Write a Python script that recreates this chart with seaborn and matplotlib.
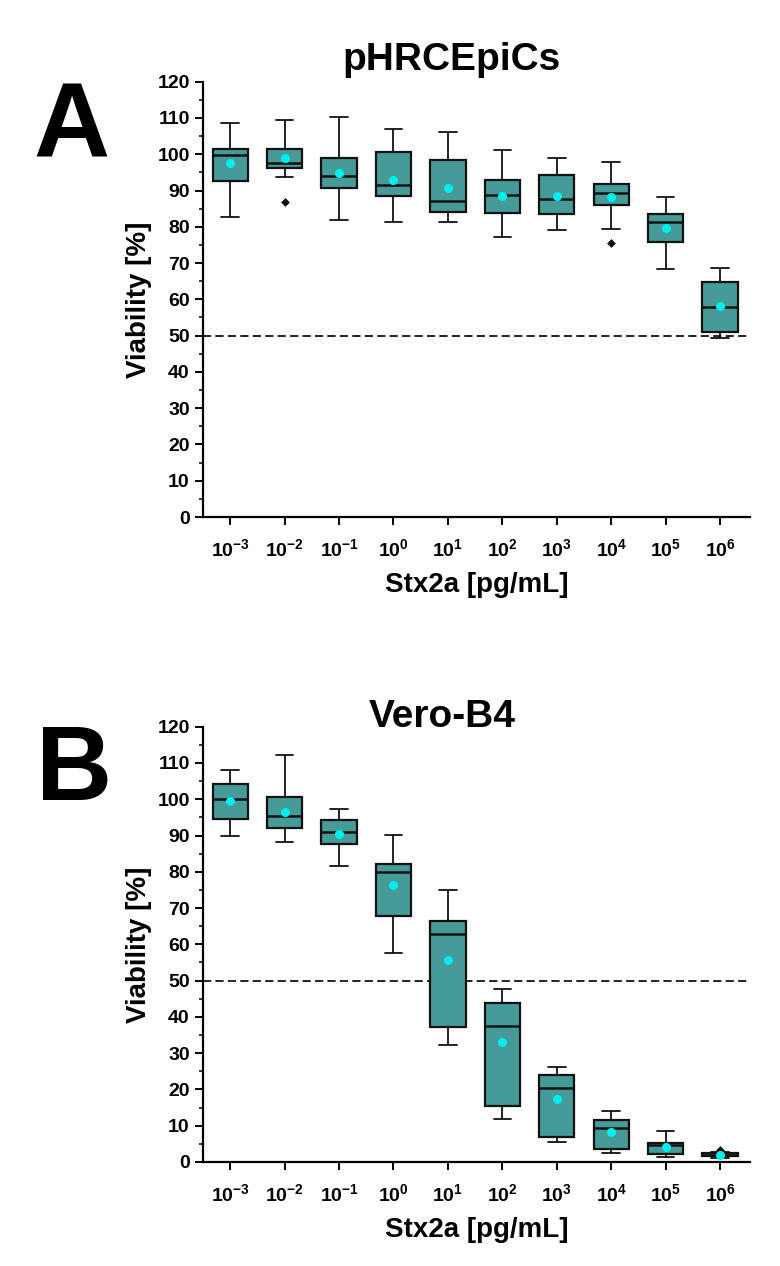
import numpy as np
import pandas as pd
import seaborn as sns
import matplotlib.pyplot as plt
from matplotlib.ticker import MultipleLocator

# concentrations (categories)
conc = ['1e-3', '1e-2', '1e-1', '1e0', '1e1', '1e2', '1e3', '1e4', '1e5', '1e6']
conc_labels = [r'$\mathbf{10^{-3}}$', r'$\mathbf{10^{-2}}$', r'$\mathbf{10^{-1}}$',
               r'$\mathbf{10^{0}}$', r'$\mathbf{10^{1}}$', r'$\mathbf{10^{2}}$',
               r'$\mathbf{10^{3}}$', r'$\mathbf{10^{4}}$', r'$\mathbf{10^{5}}$',
               r'$\mathbf{10^{6}}$']

# Panel A - pHRCEpiCs (box statistics)
a_low = [82.6, 93.6, 81.8, 81.3, 81.2, 77.2, 79.2, 79.5, 68.5, 49.3]
a_q1 = [92.6, 96.1, 90.7, 88.6, 84.2, 83.8, 83.6, 86.1, 75.7, 51.0]
a_med = [99.8, 97.6, 93.9, 91.6, 87.2, 88.9, 87.8, 89.4, 81.2, 57.9]
a_q3 = [101.5, 101.5, 99.1, 100.6, 98.3, 92.8, 94.4, 91.9, 83.4, 64.7]
a_high = [108.5, 109.5, 110.3, 106.9, 106.1, 101.3, 98.9, 98.0, 88.3, 68.7]
a_mean = [97.7, 98.9, 94.8, 93.0, 90.8, 88.4, 88.6, 88.1, 79.8, 58.1]
a_out_conc = ['1e-2', '1e4']
a_out_val = [86.8, 75.4]

# Panel B - Vero-B4
b_low = [90.0, 88.3, 81.6, 57.6, 32.2, 11.9, 5.5, 2.5, 1.4, 1.0]
b_q1 = [94.5, 92.1, 87.7, 67.7, 37.3, 15.4, 7.0, 3.7, 2.1, 1.6]
b_med = [100.0, 95.5, 91.0, 80.0, 62.8, 37.5, 20.3, 9.5, 4.6, 1.9]
b_q3 = [104.2, 100.7, 94.4, 82.1, 66.4, 43.8, 24.0, 11.5, 5.3, 2.4]
b_high = [108.1, 112.1, 97.2, 90.1, 74.9, 47.8, 26.3, 14.0, 8.5, 2.7]
b_mean = [99.6, 96.5, 90.5, 76.4, 55.6, 33.0, 17.3, 8.3, 4.1, 1.8]
b_out_conc = ['1e6']
b_out_val = [3.4]

teal = '#469a97'

sns.set_style('ticks')
plt.rcParams['font.family'] = ['Liberation Sans', 'DejaVu Sans']
plt.rcParams['font.weight'] = 'bold'
plt.rcParams['text.color'] = 'black'
plt.rcParams['axes.labelcolor'] = 'black'
plt.rcParams['mathtext.fontset'] = 'custom'
plt.rcParams['mathtext.rm'] = 'Liberation Sans:bold'
plt.rcParams['mathtext.bf'] = 'Liberation Sans:bold'


def five_points(low, q1, med, q3, high):
    # five values per concentration: quartiles of these give the box exactly
    rows = []
    for c, vals in zip(conc, zip(low, q1, med, q3, high)):
        for v in vals:
            rows.append({'conc': c, 'val': v})
    return pd.DataFrame(rows)


def draw_panel(ax, low, q1, med, q3, high, mean, out_c, out_v):
    df = five_points(low, q1, med, q3, high)
    sns.boxplot(data=df, x='conc', y='val', order=conc, ax=ax, whis=(0, 100),
                width=0.65, color=teal, saturation=1, linecolor='#111111',
                linewidth=1.6, showfliers=False,
                whiskerprops=dict(linewidth=1.3), capprops=dict(linewidth=1.3),
                medianprops=dict(linewidth=1.8, color='#111111'))
    mean_df = pd.DataFrame({'conc': conc, 'val': mean})
    out_df = pd.DataFrame({'conc': out_c, 'val': out_v})
    sns.stripplot(data=out_df, x='conc', y='val', order=conc, ax=ax, jitter=False,
                  marker='D', size=4.5, color='#111111', zorder=5)
    sns.pointplot(data=mean_df, x='conc', y='val', order=conc, ax=ax,
                  linestyle='none', errorbar=None, color='#00eeee',
                  markers='o', markersize=4.5, zorder=6)
    ax.axhline(50, ls=(0, (4.2, 2.2)), color='#222222', lw=1.4, zorder=1)

    ax.set_ylim(0, 120)
    ax.set_xlim(-0.5, 9.55)
    ax.yaxis.set_major_locator(MultipleLocator(10))
    ax.yaxis.set_minor_locator(MultipleLocator(5))
    ax.set_xticks(range(len(conc)))
    ax.set_xticklabels(conc_labels)
    ax.tick_params(axis='both', which='major', direction='out', length=6,
                   width=1.4, labelsize=14, colors='black')
    ax.tick_params(axis='y', which='minor', direction='out', length=3, width=1.1,
                   colors='black')
    ax.tick_params(axis='x', pad=9)
    for lab in ax.get_yticklabels():
        lab.set_fontweight('bold')
    sns.despine(ax=ax)
    for s in ['left', 'bottom']:
        ax.spines[s].set_linewidth(1.6)
        ax.spines[s].set_color('black')
    ax.set_xlabel('Stx2a [pg/mL]', fontsize=20, fontweight='bold', labelpad=9)
    ax.set_ylabel('Viability [%]', fontsize=20, fontweight='bold', labelpad=4)


fig = plt.figure(figsize=(7.8, 12.66), dpi=100)
W, H = 780, 1266
ax_a = fig.add_axes([203 / W, 1 - 517 / H, 547 / W, (517 - 81.7) / H])
ax_b = fig.add_axes([203 / W, 1 - 1162 / H, 547 / W, (1162 - 726.7) / H])

draw_panel(ax_a, a_low, a_q1, a_med, a_q3, a_high, a_mean, a_out_conc, a_out_val)
draw_panel(ax_b, b_low, b_q1, b_med, b_q3, b_high, b_mean, b_out_conc, b_out_val)

fig.text(452 / W, 1 - 60 / H, 'pHRCEpiCs', fontsize=28, fontweight='bold',
         ha='center', va='center')
fig.text(442 / W, 1 - 717 / H, 'Vero-B4', fontsize=28, fontweight='bold',
         ha='center', va='center')
fig.text(72 / W, 1 - 130 / H, 'A', fontsize=76, fontweight='bold',
         ha='center', va='center')
fig.text(74 / W, 1 - 772 / H, 'B', fontsize=76, fontweight='bold',
         ha='center', va='center')

fig.savefig('out.png', dpi=100)
